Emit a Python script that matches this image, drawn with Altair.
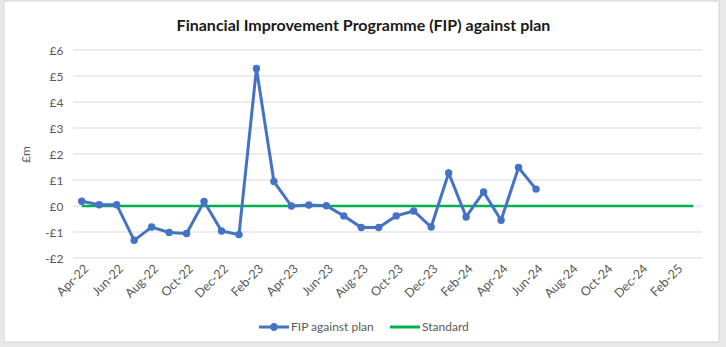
import altair as alt
import pandas as pd

# Monthly axis, Apr-22 to Mar-25
months = [
    "Apr-22", "May-22", "Jun-22", "Jul-22", "Aug-22", "Sep-22", "Oct-22", "Nov-22",
    "Dec-22", "Jan-23", "Feb-23", "Mar-23", "Apr-23", "May-23", "Jun-23", "Jul-23",
    "Aug-23", "Sep-23", "Oct-23", "Nov-23", "Dec-23", "Jan-24", "Feb-24", "Mar-24",
    "Apr-24", "May-24", "Jun-24", "Jul-24", "Aug-24", "Sep-24", "Oct-24", "Nov-24",
    "Dec-24", "Jan-25", "Feb-25", "Mar-25",
]

# FIP variance against plan, £m (reported months only)
fip_values = [
    0.18, 0.05, 0.05, -1.32, -0.81, -1.02, -1.06, 0.17, -0.96, -1.10,
    5.29, 0.94, 0.00, 0.04, 0.01, -0.38, -0.83, -0.83, -0.38, -0.19,
    -0.81, 1.27, -0.42, 0.54, -0.55, 1.48, 0.65,
]

# Standard (target) line, £m
standard_values = [0.0] * len(months)

series_names = ["FIP against plan", "Standard"]
series_colors = ["#4472C4", "#00B050"]
tick_months = months[::2]
y_ticks = [-2, -1, 0, 1, 2, 3, 4, 5, 6]

fip_df = pd.DataFrame({
    "month": months[:len(fip_values)],
    "value": fip_values,
    "series": series_names[0],
})
std_df = pd.DataFrame({
    "month": months,
    "value": standard_values,
    "series": series_names[1],
})

FONT = "Lato"
GREY = "#595959"

y_scale = alt.Scale(domain=[-2, 6], nice=False, zero=False)
y_axis = alt.Axis(
    values=y_ticks,
    labelExpr="datum.value < 0 ? '-£' + abs(datum.value) : '£' + datum.value",
    labelFontSize=12, labelColor=GREY, labelFont=FONT, labelPadding=10,
    ticks=False, domain=False, grid=False,
    title="£m", titleFontSize=12, titleFontWeight="normal", titleColor=GREY,
    titleFont=FONT, titlePadding=12, zindex=1,
)

x_enc = alt.X(
    "month:N",
    sort=months,
    scale=alt.Scale(domain=months),
    axis=alt.Axis(
        values=tick_months, labelAngle=-45, labelFontSize=12.5, labelColor=GREY,
        labelFont=FONT, ticks=False, domain=False, grid=False, labelPadding=4,
        title=None, zindex=1,
    ),
)
y_enc = alt.Y("value:Q", scale=y_scale, axis=y_axis)
color_scale = alt.Scale(domain=series_names, range=series_colors)

# Legend glyphs: line with a marker for the FIP series, plain line for the standard
fip_glyph = (
    "M-1,-0.1H1V0.1H-1Z "
    "M0.27,0A0.27,0.27 0 1 1 -0.27,0A0.27,0.27 0 1 1 0.27,0Z"
)
std_glyph = "M-1,-0.1H1V0.1H-1Z"

legend_def = alt.Legend(
    title=None, orient="none", direction="horizontal",
    legendX=186, legendY=262, labelFontSize=12, labelColor=GREY,
    labelFont=FONT, symbolSize=900, columnPadding=16, labelOffset=2,
    symbolStrokeWidth=0, zindex=2,
)
color_enc = alt.Color("series:N", scale=color_scale, legend=legend_def)

# White chart panel sitting on the grey page, behind everything else
panel = alt.Chart(pd.DataFrame({"k": [0]})).mark_rect(
    fill="white", stroke="#d4d4d4", strokeWidth=1, clip=False
).encode(
    x=alt.value(-69), x2=alt.value(646), y=alt.value(-49), y2=alt.value(292)
)

# Horizontal gridlines drawn above the panel
grid = alt.Chart(pd.DataFrame({"value": y_ticks})).mark_rule(
    color="#d9d9d9", strokeWidth=1
).encode(y=y_enc)

std_line = alt.Chart(std_df).mark_line(strokeWidth=2.6).encode(
    x=x_enc, y=y_enc, color=color_enc,
)

fip_line = alt.Chart(fip_df).mark_line(strokeWidth=3).encode(
    x=x_enc, y=y_enc, color=color_enc,
)

fip_points = alt.Chart(fip_df).mark_circle(size=55, opacity=1).encode(
    x=x_enc, y=y_enc, color=color_enc,
)

legend_layer = alt.Chart(std_df).mark_point(filled=True, size=900, opacity=1).encode(
    x=x_enc, y=y_enc,
    color=color_enc,
    shape=alt.Shape(
        "series:N",
        scale=alt.Scale(domain=series_names, range=[fip_glyph, std_glyph]),
        legend=legend_def,
    ),
).transform_filter("false")

chart = alt.layer(panel, grid, std_line, fip_line, fip_points, legend_layer).properties(
    width=629,
    height=208,
    padding={"left": 73, "top": 50, "right": 24, "bottom": 89},
    autosize=alt.AutoSizeParams(type="none"),
    background="#e9e9e9",
    title=alt.TitleParams(
        "Financial Improvement Programme (FIP) against plan",
        font=FONT, fontSize=16, fontWeight="bold", color="#1a1a1a",
        anchor="middle", dx=-24, offset=0, dy=33, zindex=2,
    ),
).configure_view(stroke=None)

chart.save("out.html", embed_options={"renderer": "svg", "actions": False})
